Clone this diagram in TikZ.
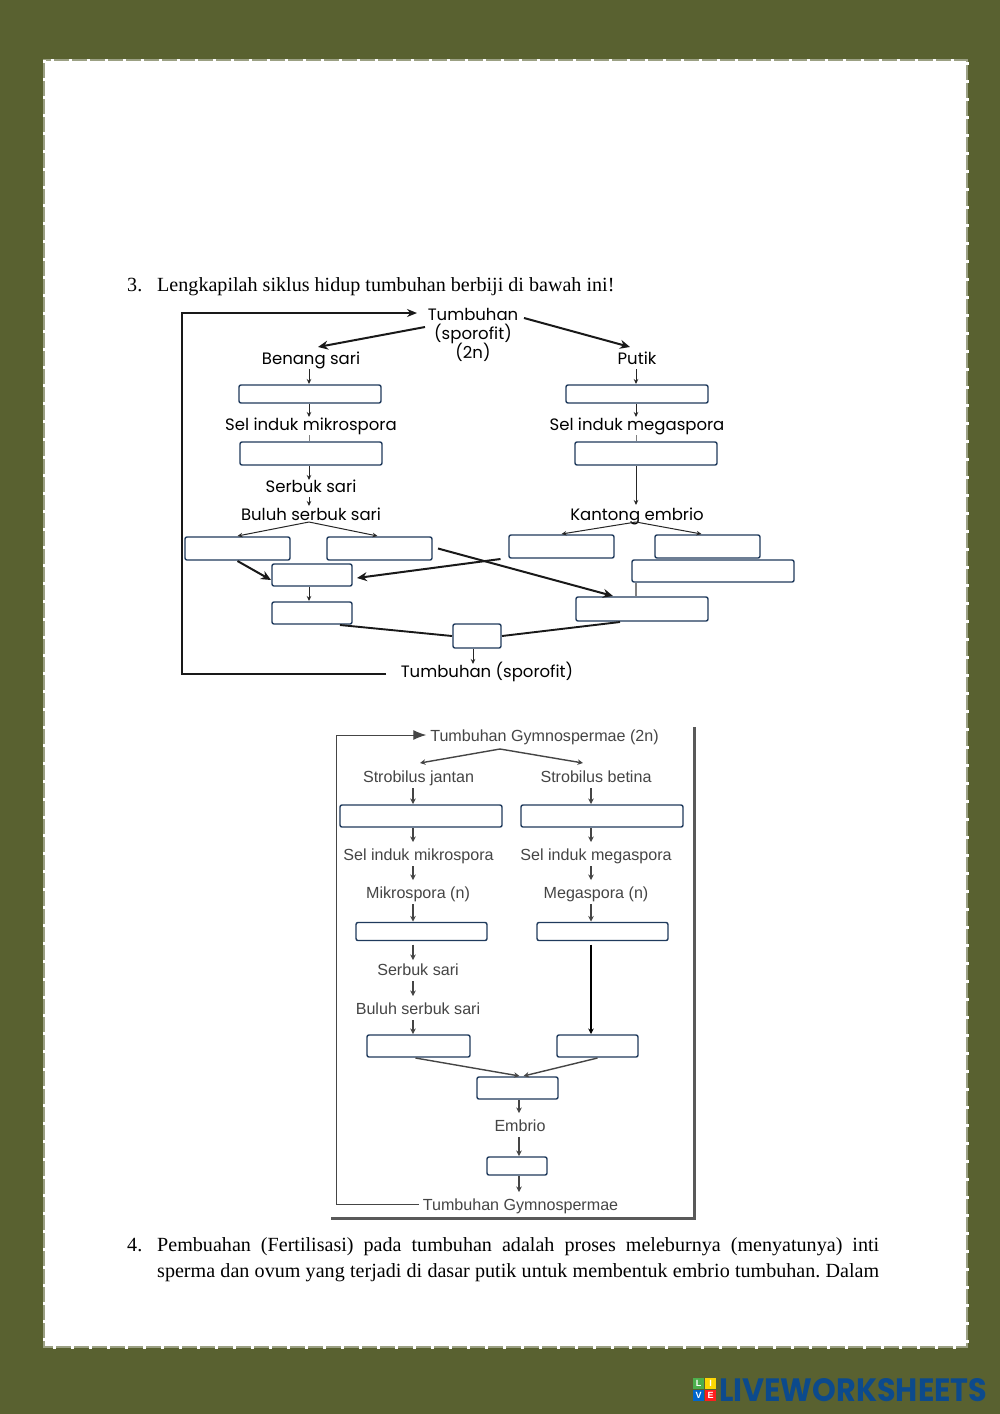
\documentclass[tikz,border=0pt]{standalone}
\usepackage{fontspec}
\usepackage{graphicx}
\setmainfont{Liberation Serif}
\newfontfamily\popfont{Poppins}
\newfontfamily\helvfont{Liberation Sans}
\usetikzlibrary{positioning,shapes,arrows,arrows.meta}
\definecolor{olivebg}{HTML}{596130}
\definecolor{boxblue}{HTML}{1F3A5C}
\definecolor{lwblue}{HTML}{0C4A8C}
\definecolor{figgray}{HTML}{454545}
\tikzset{
	blankbox/.style 2 args={draw=boxblue,fill=white,rounded corners=2pt,line width=1.4pt,inner sep=0pt,outer sep=1pt,minimum width=#1pt,minimum height=#2pt},
	thinarrow/.style={line width=1pt,-{Stealth[length=5pt,width=4.5pt]},black!85},
	fatarrow/.style={line width=2pt,-{Stealth[length=10pt,width=9pt]},black!90},
	fatline/.style={line width=1.9pt,black!90},
	grayarrow/.style={line width=1.4pt,-{Stealth[length=5.5pt,width=5.5pt]},figgray},
	logotile/.style={minimum width=11pt,minimum height=11pt,inner sep=0pt,text=white,font=\helvfont\bfseries\fontsize{9pt}{9pt}\selectfont},
}
\begin{document}
\frenchspacing
\begin{tikzpicture}[x=1pt, y=-1pt]
		\useasboundingbox (0,0) rectangle (1000,1414);
		\fill[olivebg] (0,0) rectangle (1000,1414);
		\fill[white] (45,61) rectangle (966,1346);
		\draw[olivebg!60!white,line width=2pt] (44,60) rectangle (967,1347);
		\draw[white,line width=3pt,dash pattern=on 3pt off 15pt] (44,60) rectangle (967,1347);
		% question texts
		\begin{scope}[every node/.style={anchor=base west,inner sep=0pt,font=\fontsize{20.1pt}{22pt}\selectfont}]
			\node (q3num) at (127,291) {3.};
			\node (q3) at (157,291) {Lengkapilah siklus hidup tumbuhan berbiji di bawah ini!};
			\node (q4num) at (127,1251) {4.};
			\node (q4a) at (157,1251) {\makebox[722pt][s]{Pembuahan (Fertilisasi) pada tumbuhan adalah proses meleburnya (menyatunya) inti}};
			\node (q4b) at (157,1277) {\makebox[722pt][s]{sperma dan ovum yang terjadi di dasar putik untuk membentuk embrio tumbuhan. Dalam}};
		\end{scope}
		% seed plant cycle
		\coordinate (colA) at (309,0);
		\coordinate (colB) at (636,0);
		\begin{scope}[every node/.style={inner sep=0pt,outer sep=1pt,text height=16pt,text depth=4pt,font=\popfont\fontsize{16.5pt}{19pt}\selectfont}]
			\node[text height=12pt,text depth=0pt] (tumbuhan) at (473,314) {Tumbuhan};
			\node (sporofita) at (473,333) {(sporofit)};
			\node (dualn) at (473,352) {(2n)};
			\node (benang) at (311,358) {Benang sari};
			\node (putik) at (637,358) {Putik};
			\node (mikro) at (311,424) {Sel induk mikrospora};
			\node (mega) at (637,424) {Sel induk megaspora};
			\node (serbuk) at (311,486) {Serbuk sari};
			\node (buluh) at (311,514) {Buluh serbuk sari};
			\node (kantong) at (637,514) {Kantong embrio};
			\node (sporofit) at (487,671) {Tumbuhan (sporofit)};
		\end{scope}
		\node[blankbox={142}{18}] (a1) at (310,394) {};
		\node[blankbox={142}{18}] (b1) at (637,394) {};
		\node[blankbox={142}{23}] (a2) at (311,453.5) {};
		\node[blankbox={142}{23}] (b2) at (646,453.5) {};
		\node[blankbox={105}{23}] (a3) at (237.5,548.5) {};
		\node[blankbox={105}{23}] (a4) at (379.5,548.5) {};
		\node[blankbox={105}{23}] (b3) at (561.5,546.5) {};
		\node[blankbox={105}{23}] (b4) at (707.5,546.5) {};
		\node[blankbox={162}{22}] (b5) at (713,571) {};
		\node[blankbox={80}{22}] (a5) at (312,575) {};
		\node[blankbox={80}{22}] (a6) at (312,613) {};
		\node[blankbox={132}{24}] (b6) at (642,609) {};
		\node[blankbox={48}{24}] (zigot) at (477,636) {};
		\coordinate (loopEnd) at (386,674);
		\coordinate (loopA) at (182,674);
		\coordinate (loopB) at (182,313);
		\coordinate (loopTip) at (417,313);
		\coordinate (fromL) at (425,327);
		\coordinate (fromR) at (524,318);
		\draw[line width=2pt,-{Stealth[length=10pt,width=8pt]},black!90] (loopEnd) -- (loopA) -- (loopB) -- (loopTip);
		\draw[fatarrow] (fromL) -- (benang.north -| 318,0);
		\draw[fatarrow] (fromR) -- (putik.north -| 630,0);
		\draw[thinarrow] (benang.south -| colA) -- (a1.north -| colA);
		\draw[thinarrow] (a1.south -| colA) -- ([yshift=-4pt]mikro.north -| colA);
		\draw[line width=0.8pt,black!50] (mikro.south -| colA) -- (a2.north -| colA);
		\draw[thinarrow] (a2.south -| colA) -- ([yshift=-5pt]serbuk.north -| colA);
		\draw[thinarrow] (serbuk.south -| colA) -- ([yshift=-3pt]buluh.north -| colA);
		\draw[thinarrow] (putik.south -| colB) -- (b1.north -| colB);
		\draw[thinarrow] (b1.south -| colB) -- ([yshift=-4pt]mega.north -| colB);
		\draw[line width=0.8pt,black!50] (mega.south -| colB) -- (b2.north -| colB);
		\draw[thinarrow] (b2.south -| colB) -- ([yshift=-2pt]kantong.north -| colB);
		\draw[thinarrow] ([yshift=3pt]buluh.south -| colA) -- (a3.north);
		\draw[thinarrow] ([yshift=3pt]buluh.south -| colA) -- ([xshift=-2pt]a4.north);
		\draw[thinarrow] ([yshift=3pt]kantong.south -| colB) -- (b3.north);
		\draw[thinarrow] ([yshift=3pt]kantong.south -| colB) -- ([xshift=-6pt]b4.north);
		\draw[fatarrow] (a3.south) -- ([yshift=-5pt]a5.west);
		\draw[fatarrow] ([xshift=-61pt]b3.south) -- ([xshift=4pt,yshift=-3pt]a5.east);
		\draw[fatarrow] ([xshift=5pt]a4.east) -- ([xshift=-29pt]b6.north);
		\draw[thinarrow] (a5.south -| colA) -- (a6.north -| colA);
		\draw[line width=1.2pt,black!50] (b5.south -| colB) -- (b6.north -| colB);
		\draw[fatline] ([xshift=28pt]a6.south) -- (zigot.west);
		\draw[fatline] (zigot.east) -- ([xshift=-22pt]b6.south);
		\draw[thinarrow] ([xshift=-4pt]zigot.south) -- ([xshift=-14pt,yshift=-4pt]sporofit.north);
		% gymnosperm cycle
		\coordinate (colC) at (413,0);
		\coordinate (colD) at (591,0);
		\coordinate (colE) at (519,0);
		\draw[black!65,line width=3pt] (694,727) -- (694,1218.5) -- (331,1218.5);
		\begin{scope}[every node/.style={inner sep=0pt,outer sep=4pt,text height=14pt,text depth=2pt,text=figgray,font=\helvfont\fontsize{16.1pt}{18pt}\selectfont}]
			\node (gymno) at (544.5,735) {Tumbuhan Gymnospermae (2n)};
			\node (jantan) at (418.5,776) {Strobilus jantan};
			\node (betina) at (596,776) {Strobilus betina};
			\node (gmikro) at (418.5,854) {Sel induk mikrospora};
			\node (gmega) at (596,854) {Sel induk megaspora};
			\node (mspora) at (418,892) {Mikrospora (n)};
			\node (maspora) at (596,892) {Megaspora (n)};
			\node (gserbuk) at (418,969) {Serbuk sari};
			\node (gbuluh) at (418,1008) {Buluh serbuk sari};
			\node (embrio) at (520,1125) {Embrio};
			\node (gtumbuhan) at (520.5,1204) {Tumbuhan Gymnospermae};
		\end{scope}
		\node[blankbox={162}{22}] (c1) at (421,816) {};
		\node[blankbox={162}{22}] (d1) at (602,816) {};
		\node[blankbox={131}{18}] (c2) at (421.5,931.5) {};
		\node[blankbox={131}{18}] (d2) at (602.5,931.5) {};
		\node[blankbox={103}{22}] (c3) at (418.5,1046) {};
		\node[blankbox={81}{22}] (d3) at (597.5,1046) {};
		\node[blankbox={81}{22}] (e1) at (517.5,1088) {};
		\node[blankbox={60}{18}] (e2) at (517,1166) {};
		\coordinate (loopC) at (336,1204);
		\coordinate (loopD) at (336,735);
		\draw[figgray,line width=1pt,-{Latex[length=13pt,width=10pt]}] (gtumbuhan.west) -- (loopC) -- (loopD) -- (gymno.west);
		\coordinate (apex) at (500,749);
		\coordinate (apexL) at (420,763);
		\coordinate (apexR) at (583,763);
		\draw[grayarrow] (apex) -- (apexL);
		\draw[grayarrow] (apex) -- (apexR);
		\draw[grayarrow] (jantan.south -| colC) -- (c1.north -| colC);
		\draw[grayarrow] (betina.south -| colD) -- (d1.north -| colD);
		\draw[grayarrow] (c1.south -| colC) -- (gmikro.north -| colC);
		\draw[grayarrow] (d1.south -| colD) -- (gmega.north -| colD);
		\draw[grayarrow] (gmikro.south -| colC) -- (mspora.north -| colC);
		\draw[grayarrow] (gmega.south -| colD) -- (maspora.north -| colD);
		\draw[grayarrow] (mspora.south -| colC) -- (c2.north -| colC);
		\draw[grayarrow] (maspora.south -| colD) -- (d2.north -| colD);
		\draw[grayarrow] ([yshift=-3pt]c2.south -| colC) -- ([yshift=-3pt]gserbuk.north -| colC);
		\draw[grayarrow] (gserbuk.south -| colC) -- (gbuluh.north -| colC);
		\draw[grayarrow] (gbuluh.south -| colC) -- (c3.north -| colC);
		\draw[grayarrow,black] ([yshift=-3pt]d2.south -| colD) -- (d3.north -| colD);
		\draw[grayarrow] ([xshift=-3pt]c3.south) -- ([xshift=2pt]e1.north);
		\draw[grayarrow] (d3.south) -- ([xshift=6pt]e1.north);
		\draw[grayarrow] (e1.south -| colE) -- (embrio.north -| colE);
		\draw[grayarrow] (embrio.south -| colE) -- (e2.north -| colE);
		\draw[grayarrow] (e2.south -| colE) -- (gtumbuhan.north -| colE);
		% logo
		\node[logotile,fill=green!55!black!70!white] (tileL) at (698.5,1383.5) {L};
		\node[logotile,fill=yellow!75!orange] (tileI) at (710.5,1383.5) {I};
		\node[logotile,fill=blue!50!cyan!80!black] (tileV) at (698.5,1395.5) {V};
		\node[logotile,fill=red!85!pink] (tileE) at (710.5,1395.5) {E};
		\node[anchor=base west,inner sep=0pt,text=lwblue,font=\popfont\bfseries] (lwtext) at (719,1401) {\resizebox{268pt}{23pt}{LIVEWORKSHEETS}};
	\end{tikzpicture}
\end{document}
